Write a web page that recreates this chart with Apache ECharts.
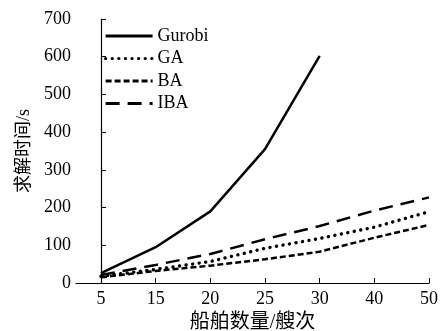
<!DOCTYPE html>
<html>
<head>
<meta charset="utf-8">
<script src="https://cdn.jsdelivr.net/npm/echarts@6/dist/echarts.min.js"></script>
<style>
  html, body { margin: 0; padding: 0; background: #fff; }
  #chart { width: 447px; height: 331px; }
</style>
</head>
<body>
<div id="chart"></div>
<script>
// ship counts (x categories, evenly spaced)
const shipCounts = ['5', '15', '20', '25', '30', '40', '50']
const yTicks = [0, 100, 200, 300, 400, 500, 600, 700]

// solve time (s)
const gurobi = [26, 95, 190, 355, 602]
const ga = [18, 36, 57, 92, 118, 148, 189]
const ba = [15, 32, 46, 63, 83, 120, 154]
const iba = [21, 48, 77, 116, 151, 192, 227]

const font = '"Liberation Serif", "Noto Sans CJK SC", serif'

function toPoints (vals) {
  return vals.map((v, i) => [i, v])
}

const chart = echarts.init(document.getElementById('chart'))
chart.setOption({
  backgroundColor: '#fff',
  animation: false,
  grid: { left: 76, right: 18, top: 19, bottom: 48, containLabel: false, outerBoundsMode: 'none' },
  legend: {
    left: 99,
    top: 22,
    orient: 'vertical',
    itemWidth: 47,
    itemHeight: 18,
    itemGap: 4.5,
    itemStyle: { opacity: 0 },
    lineStyle: { width: 3.2 },
    textStyle: { fontFamily: font, fontSize: 18, color: '#000' },
    data: ['Gurobi', 'GA', 'BA', 'IBA']
  },
  xAxis: {
    type: 'value',
    min: -0.457,
    max: shipCounts.length - 1,
    name: '船舶数量/艘次',
    nameLocation: 'middle',
    nameGap: 30,
    nameTextStyle: { fontFamily: font, fontSize: 20, color: '#000' },
    axisLine: { lineStyle: { color: '#000', width: 1.2 } },
    axisTick: {
      inside: true,
      length: 5,
      customValues: shipCounts.map((_, i) => i),
      lineStyle: { color: '#000' }
    },
    axisLabel: {
      customValues: shipCounts.map((_, i) => i),
      formatter: v => shipCounts[Math.round(v)],
      margin: 7,
      fontFamily: font,
      fontSize: 18,
      color: '#000'
    },
    splitLine: { show: false }
  },
  yAxis: {
    type: 'value',
    min: yTicks[0],
    max: yTicks[yTicks.length - 1],
    interval: 100,
    name: '求解时间/s',
    nameLocation: 'middle',
    nameGap: 40,
    nameTextStyle: { fontFamily: font, fontSize: 18, color: '#000' },
    axisLine: { show: true, lineStyle: { color: '#000', width: 1.2 } },
    axisTick: { show: true, inside: true, length: 5, lineStyle: { color: '#000' } },
    axisLabel: { fontFamily: font, fontSize: 18, color: '#000', margin: 5 },
    splitLine: { show: false }
  },
  series: [
    {
      name: 'Gurobi',
      type: 'line',
      data: toPoints(gurobi),
      symbol: 'none',
      itemStyle: { color: '#000' },
      lineStyle: { color: '#000', width: 2.5 }
    },
    {
      name: 'GA',
      type: 'line',
      data: toPoints(ga),
      symbol: 'none',
      itemStyle: { color: '#000' },
      lineStyle: { color: '#000', width: 3.4, type: [0.1, 6.5], cap: 'round' }
    },
    {
      name: 'BA',
      type: 'line',
      data: toPoints(ba),
      symbol: 'none',
      itemStyle: { color: '#000' },
      lineStyle: { color: '#000', width: 2.5, type: [6, 3] }
    },
    {
      name: 'IBA',
      type: 'line',
      data: toPoints(iba),
      symbol: 'none',
      itemStyle: { color: '#000' },
      lineStyle: { color: '#000', width: 2.5, type: [14, 8] }
    }
  ]
})
</script>
</body>
</html>
